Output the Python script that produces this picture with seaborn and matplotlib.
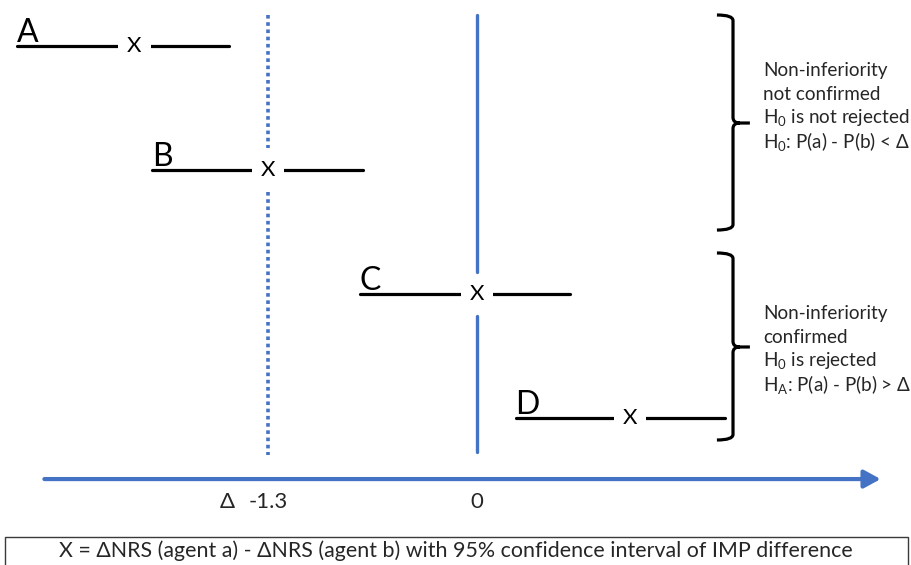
import matplotlib
matplotlib.use("Agg")
import matplotlib.pyplot as plt
import seaborn as sns
import pandas as pd
from matplotlib.path import Path
from matplotlib.patches import PathPatch, Rectangle

# ---- data ----
labels = ["A", "B", "C", "D"]
lower = [-2.86, -2.02, -0.73, 0.24]
estimate = [-2.13, -1.30, 0.00, 0.95]
upper = [-1.54, -0.71, 0.58, 1.54]
margin = -1.3
zero = 0
tick_labels = ["-1.3", "0"]
group_texts = [
    ["Non-inferiority", "not confirmed", r"H$_{\mathregular{0}}$ is not rejected",
     r"H$_{\mathregular{0}}$: P(a) - P(b) < Δ"],
    ["Non-inferiority", "confirmed", r"H$_{\mathregular{0}}$ is rejected",
     r"H$_{\mathregular{A}}$: P(a) - P(b) > Δ"],
]
footnote = "X = ΔNRS (agent a) - ΔNRS (agent b) with 95% confidence interval of IMP difference"

# ---- style ----
sns.set_theme(style="white")
plt.rcParams["font.family"] = ["Lato", "DejaVu Sans"]
plt.rcParams["mathtext.fontset"] = "custom"
plt.rcParams["mathtext.rm"] = "Lato"
BLUE = "#4472C4"

fig = plt.figure(figsize=(9.12, 5.65), dpi=100)
ax = fig.add_axes([0, 0, 1, 1])

rows = list(range(len(labels)))
df = pd.DataFrame({
    "label": labels * 2,
    "diff": lower + upper,
    "row": rows * 2,
})
sns.lineplot(data=df, x="diff", y="row", units="label", estimator=None, sort=False,
             color="black", lw=2.3, legend=False, ax=ax)


def vline_with_gaps(xv, top, bot, gap=0.178, **kw):
    cuts = [r for est, r in zip(estimate, rows) if abs(est - xv) < 1e-9]
    start = top
    for r in cuts:
        ax.plot([xv, xv], [start, r - gap], **kw)
        start = r + gap
    ax.plot([xv, xv], [start, bot], **kw)


vline_with_gaps(margin, -0.25, 3.30, color=BLUE, lw=2.6,
                linestyle=(0, (1, 1.0)), solid_capstyle="butt", zorder=1)
vline_with_gaps(zero, -0.25, 3.27, color=BLUE, lw=2.4, zorder=1)

# point estimates and labels
for lab, lo, est, r in zip(labels, lower, estimate, rows):
    ax.text(est, r, "X", ha="center", va="center", fontsize=16, color="black",
            zorder=5, bbox=dict(boxstyle="square,pad=0.4", fc="white", ec="none"))
    ax.annotate(lab, (lo, r), xytext=(0, 3), textcoords="offset points",
                ha="left", va="baseline", fontsize=23, color="black")

# x axis arrow
axis_row = 3.492
ax.annotate("", xy=(2.51, axis_row), xytext=(-2.69, axis_row),
            arrowprops=dict(arrowstyle="-|>,head_length=0.55,head_width=0.3",
                            color=BLUE, lw=3, mutation_scale=18, shrinkA=0, shrinkB=0))
lab_row = 3.68
ax.text(margin, lab_row, tick_labels[0], ha="center", va="center", fontsize=16)
ax.annotate("Δ", (margin, lab_row), xytext=(-29, 0), textcoords="offset points",
            ha="center", va="center", fontsize=16)
ax.text(zero, lab_row, tick_labels[1], ha="center", va="center", fontsize=16)


def brace(x, y0, y1, ytip, hook=0.10, tip=0.105, r=0.045):
    verts = [
        (x - hook, y0), (x, y0), (x, y0 + r),
        (x, ytip - r), (x, ytip), (x + tip * 0.4, ytip),
        (x + tip, ytip),
        (x + tip * 0.4, ytip), (x, ytip), (x, ytip + r),
        (x, y1 - r), (x, y1), (x - hook, y1),
    ]
    codes = [Path.MOVETO, Path.CURVE3, Path.CURVE3,
             Path.LINETO, Path.CURVE3, Path.CURVE3,
             Path.LINETO,
             Path.MOVETO, Path.CURVE3, Path.CURVE3,
             Path.LINETO, Path.CURVE3, Path.CURVE3]
    ax.add_patch(PathPatch(Path(verts, codes), fc="none", ec="black", lw=2.3,
                           capstyle="butt", joinstyle="round"))


brace(1.592, -0.25, 1.484, 0.621)
brace(1.592, 1.669, 3.177, 2.427)

text_x = 1.779
group_first_rows = [0.194, 2.153]
pitch = 0.195
for first, lines in zip(group_first_rows, group_texts):
    for i, line in enumerate(lines):
        ax.text(text_x, first + i * pitch, line, ha="left", va="center", fontsize=13.6)

# footnote box
fig.patches.append(Rectangle((5 / 912, -0.02), 903 / 912, (565 - 537) / 565 + 0.02,
                             transform=fig.transFigure, fc="white", ec="#3a3a3a", lw=1))
fig.text(0.5, 1 - 551 / 565, footnote, ha="center", va="center", fontsize=15.4)

ax.set_xlim(-2.966, 2.705)
ax.set_ylim(4.185, -0.371)
ax.axis("off")

fig.savefig("out.png", dpi=100)
